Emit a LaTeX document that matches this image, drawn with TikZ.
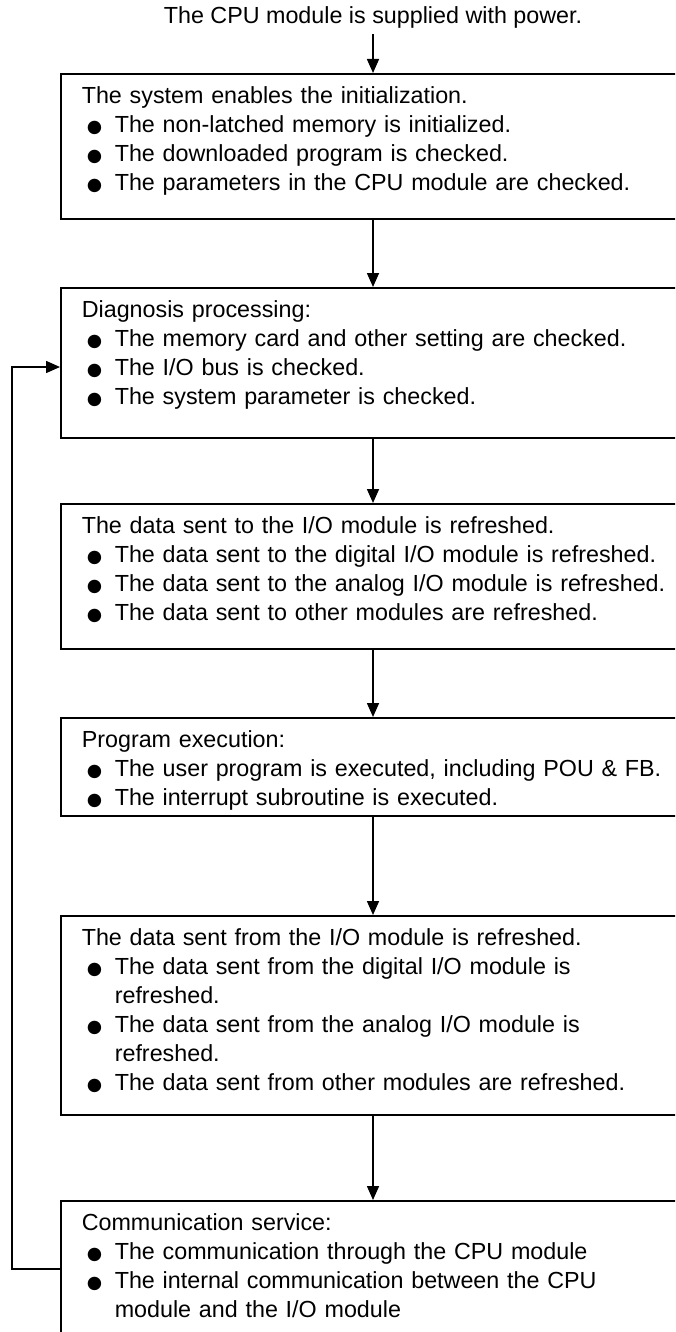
\documentclass[tikz,border=0pt]{standalone}
\usepackage{fontspec}
\setmainfont{Liberation Sans}
\newfontfamily\symb{DejaVu Sans}
\usetikzlibrary{arrows.meta}

\newcommand\bitem{\makebox[16.5pt][l]{\hspace{2.5pt}{\fontsize{8.8pt}{8.8pt}\selectfont\symb ●}}}
\newcommand\bcont{\hspace*{16.5pt}}
\newcommand\topstrut{\rule{0pt}{15pt}}
\newcommand\botpad[1]{\rule[-#1]{0pt}{#1}}

\begin{document}
\begin{tikzpicture}[
  x=0.5pt, y=-0.5pt,
  box/.style={draw, line width=0.8pt, anchor=north west, align=left, text width=310pt, inner xsep=10.5pt, inner ysep=0pt, font=\fontsize{11.65pt}{14.5pt}\selectfont},
  title/.style={inner sep=3pt, font=\fontsize{11.65pt}{14.5pt}\selectfont},
  arrow/.style={-{Triangle[length=7pt,width=6pt]}, line width=0.8pt},
  loopline/.style={-{Triangle[length=7pt,width=6pt]}, line width=0.8pt}
]
\path[use as bounding box, clip] (0,0) rectangle (675,1332);

\node[title] (power) at (373,17) {The CPU module is supplied with power.};

\node[box] (init) at (60,73) {\topstrut The system enables the initialization.\\
  \bitem The non-latched memory is initialized.\\
  \bitem The downloaded program is checked.\\
  \bitem The parameters in the CPU module are checked.\botpad{14pt}};

\node[box] (diag) at (60,287) {\topstrut Diagnosis processing:\\
  \bitem The memory card and other setting are checked.\\
  \bitem The I/O bus is checked.\\
  \bitem The system parameter is checked.\botpad{16.5pt}};

\node[box] (outref) at (60,503) {\topstrut The data sent to the I/O module is refreshed.\\
  \bitem The data sent to the digital I/O module is refreshed.\\
  \bitem The data sent to the analog I/O module is refreshed.\\
  \bitem The data sent to other modules are refreshed.\botpad{14pt}};

\node[box] (prog) at (60,717) {\topstrut Program execution:\\
  \bitem The user program is executed, including POU \& FB.\\
  \bitem The interrupt subroutine is executed.\botpad{5pt}};

\node[box] (inref) at (60,915) {\topstrut The data sent from the I/O module is refreshed.\\
  \bitem The data sent from the digital I/O module is\\
  \bcont refreshed.\\
  \bitem The data sent from the analog I/O module is\\
  \bcont refreshed.\\
  \bitem The data sent from other modules are refreshed.\botpad{12pt}};

\node[box] (comm) at (60,1200) {\topstrut Communication service:\\
  \bitem The communication through the CPU module\\
  \bitem The internal communication between the CPU\\
  \bcont module and the I/O module\botpad{20pt}};

% main flow
\draw[arrow] (power.south) -- (init.north -| power.south);
\draw[arrow] (init.south -| power.south) -- (diag.north -| power.south);
\draw[arrow] (diag.south -| power.south) -- (outref.north -| power.south);
\draw[arrow] (outref.south -| power.south) -- (prog.north -| power.south);
\draw[arrow] (prog.south -| power.south) -- (inref.north -| power.south);
\draw[arrow] (inref.south -| power.south) -- (comm.north -| power.south);

% return path
\coordinate (back) at (12,1269);
\coordinate (entry) at (12,367);
\draw[loopline] (comm.west |- back) -- (back) |- (diag.west |- entry);
\end{tikzpicture}
\end{document}
